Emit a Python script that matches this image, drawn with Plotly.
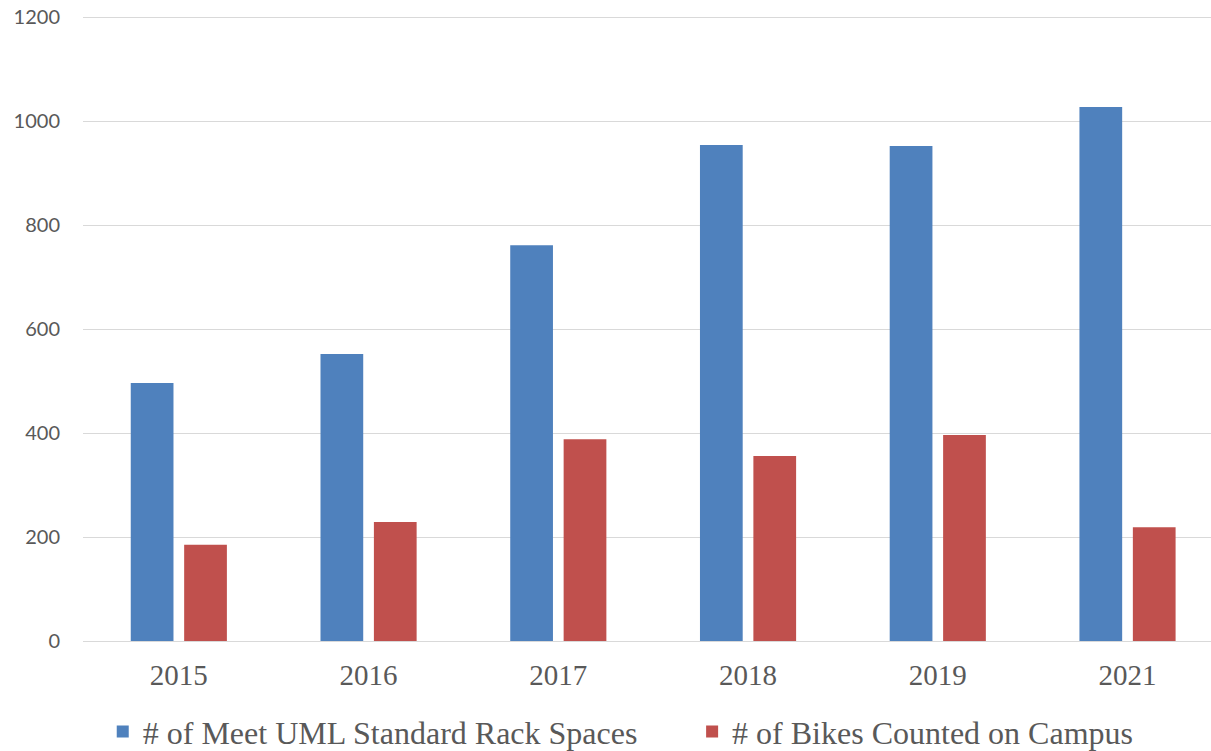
import plotly.graph_objects as go

years = ["2015", "2016", "2017", "2018", "2019", "2021"]
rack_spaces = [496, 552, 761, 954, 952, 1027]
bikes_counted = [185, 229, 388, 356, 396, 219]
y_ticks = [0, 200, 400, 600, 800, 1000, 1200]

fig = go.Figure()
fig.add_trace(go.Bar(x=years, y=rack_spaces, name="# of Meet UML Standard Rack Spaces",
                     marker=dict(color="#4F81BD", line=dict(width=0)), legend="legend"))
fig.add_trace(go.Bar(x=years, y=bikes_counted, name="# of Bikes Counted on Campus",
                     marker=dict(color="#C0504D", line=dict(width=0)), legend="legend2"))

legend_font = dict(family="Liberation Serif", size=32, color="#595959")
fig.update_layout(
    width=1211, height=751,
    margin=dict(l=83, r=0, t=16, b=110, autoexpand=False),
    paper_bgcolor="white", plot_bgcolor="white",
    barmode="group", bargap=0.437, bargroupgap=0.2,
    showlegend=True,
    legend=dict(orientation="h", x=0.0175, xanchor="left", y=-0.145, yanchor="middle",
                font=legend_font),
    legend2=dict(orientation="h", x=0.540, xanchor="left", y=-0.145, yanchor="middle",
                 font=legend_font),
    xaxis=dict(type="category", range=[-0.505, 5.44], showgrid=False, showline=False,
               automargin=False, ticks="", ticklabelstandoff=14,
               tickfont=dict(family="Liberation Serif", size=29, color="#595959")),
    yaxis=dict(range=[0, 1202], tickvals=y_ticks, showgrid=True, gridcolor="#d9d9d9",
               gridwidth=1, zeroline=True, zerolinecolor="#d9d9d9", zerolinewidth=1,
               showline=False, ticks="", ticklabelstandoff=22, automargin=False,
               tickfont=dict(family="Lato", size=20, color="#595959")),
)
fig.write_html("out.html", config={"displayModeBar": False},
               post_script="document.body.style.margin='0';document.body.style.overflow='hidden';")
